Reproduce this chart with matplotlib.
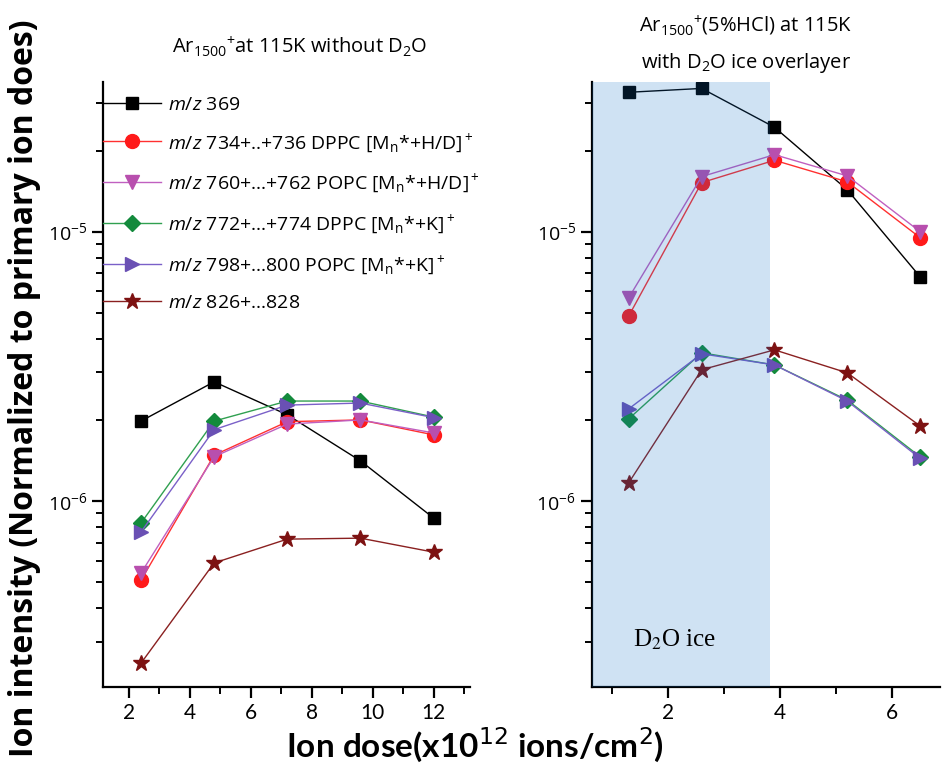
import matplotlib
matplotlib.use("Agg")
import matplotlib.pyplot as plt
from matplotlib.ticker import LogLocator, NullFormatter, MultipleLocator
import numpy as np

plt.rcParams['font.family'] = ['Open Sans', 'DejaVu Sans']
plt.rcParams['mathtext.fontset'] = 'custom'
plt.rcParams['mathtext.rm'] = 'Open Sans'
plt.rcParams['mathtext.it'] = 'Open Sans:italic'
plt.rcParams['mathtext.bf'] = 'Open Sans:bold'

# left panel: Ar1500+ at 115K without D2O
dose_a = [2.4, 4.8, 7.2, 9.6, 12.0]
a_369 = [1.98e-6, 2.77e-6, 2.09e-6, 1.41e-6, 8.65e-7]
a_734 = [5.08e-7, 1.48e-6, 1.97e-6, 2.00e-6, 1.76e-6]
a_760 = [5.40e-7, 1.46e-6, 1.93e-6, 2.00e-6, 1.79e-6]
a_772 = [8.28e-7, 1.98e-6, 2.35e-6, 2.35e-6, 2.05e-6]
a_798 = [7.67e-7, 1.84e-6, 2.27e-6, 2.31e-6, 2.04e-6]
a_826 = [2.50e-7, 5.89e-7, 7.22e-7, 7.28e-7, 6.46e-7]

# right panel: Ar1500+(5%HCl) at 115K with D2O ice overlayer
dose_b = [1.3, 2.6, 3.9, 5.2, 6.5]
b_369 = [3.29e-5, 3.40e-5, 2.44e-5, 1.43e-5, 6.80e-6]
b_734 = [4.87e-6, 1.52e-5, 1.84e-5, 1.53e-5, 9.50e-6]
b_760 = [5.69e-6, 1.60e-5, 1.93e-5, 1.61e-5, 1.00e-5]
b_772 = [2.02e-6, 3.55e-6, 3.20e-6, 2.37e-6, 1.46e-6]
b_798 = [2.20e-6, 3.52e-6, 3.20e-6, 2.35e-6, 1.44e-6]
b_826 = [1.17e-6, 3.07e-6, 3.64e-6, 2.99e-6, 1.90e-6]
ice_end = 3.82

labels = [r'$\it{m/z}$ 369',
          r'$\it{m/z}$ 734+..+736 DPPC [M$_\mathrm{n}$*+H/D]$^+$',
          r'$\it{m/z}$ 760+...+762 POPC [M$_\mathrm{n}$*+H/D]$^+$',
          r'$\it{m/z}$ 772+...+774 DPPC [M$_\mathrm{n}$*+K]$^+$',
          r'$\it{m/z}$ 798+...800 POPC [M$_\mathrm{n}$*+K]$^+$',
          r'$\it{m/z}$ 826+...828']
colors = ['black', '#ff1a1a', '#b84fae', '#138a3c', '#6a50b4', '#7d1212']
lcolors = ['black', '#ff3030', '#c060c0', '#30a050', '#7a60c8', '#8a2020']
markers = ['s', 'o', 'v', 'D', '>', '*']
msizes = [9, 10, 10, 8, 10, 12]

fig = plt.figure(figsize=(9.44, 7.74), dpi=100)
ax1 = fig.add_axes([0.109, 0.1124, 0.389, 0.782])
ax2 = fig.add_axes([0.627, 0.1124, 0.369, 0.782])

series_a = [a_369, a_734, a_760, a_772, a_798, a_826]
series_b = [b_369, b_734, b_760, b_772, b_798, b_826]

for i in range(6):
    ax1.plot(dose_a, series_a[i], color=lcolors[i], lw=1.0, marker=markers[i],
             ms=msizes[i], mfc=colors[i], mec=colors[i], label=labels[i])
    ax2.plot(dose_b, series_b[i], color=lcolors[i], lw=1.0, marker=markers[i],
             ms=msizes[i], mfc=colors[i], mec=colors[i])

ax2.axvspan(0.0, ice_end, color=(15/255, 110/255, 195/255), alpha=0.2, lw=0, zorder=5)
ax2.text(1.37, 3.04e-7, r'D$_2$O ice', family='Liberation Serif', fontsize=18,
         va='center', math_fontfamily='stix', zorder=6)

tick_font = ['Lato', 'DejaVu Sans']
for ax in (ax1, ax2):
    ax.set_yscale('log')
    ax.set_ylim(2.04e-7, 3.6e-5)
    ax.spines['top'].set_visible(False)
    ax.spines['right'].set_visible(False)
    ax.spines['left'].set_linewidth(1.6)
    ax.spines['bottom'].set_linewidth(1.6)
    ax.yaxis.set_major_locator(LogLocator(base=10))
    ax.yaxis.set_minor_locator(LogLocator(base=10, subs=np.arange(2, 10)))
    ax.yaxis.set_minor_formatter(NullFormatter())
    ax.tick_params(which='major', direction='out', length=8, width=1.6, labelsize=14)
    ax.tick_params(which='minor', direction='out', length=5, width=1.4)

ax1.set_xlim(1.15, 13.2)
ax1.xaxis.set_major_locator(MultipleLocator(2))
ax1.xaxis.set_minor_locator(MultipleLocator(1))
ax2.set_xlim(0.64, 6.86)
ax2.xaxis.set_major_locator(MultipleLocator(2))
ax2.xaxis.set_minor_locator(MultipleLocator(1))
for ax in (ax1, ax2):
    for t in ax.get_xticklabels():
        t.set_family(tick_font)
        t.set_fontsize(15)

ax1.legend(loc='upper left', bbox_to_anchor=(0.0, 0.977), frameon=False,
           fontsize=14, handlelength=3.0, handletextpad=0.35, labelspacing=0.88,
           borderaxespad=0, borderpad=0)

fig.text(0.317, 0.94, r'Ar$_{1500}$$^{+}$at 115K without D$_2$O', ha='center',
         va='center', fontsize=14.5)
fig.text(0.79, 0.967, r'Ar$_{1500}$$^{+}$(5%HCl) at 115K', ha='center',
         va='center', fontsize=14.5)
fig.text(0.79, 0.919, r'with D$_2$O ice overlayer', ha='center',
         va='center', fontsize=14.5)

fig.text(0.026, 0.499, 'Ion intensity (Normalized to primary ion does)',
         rotation=90, ha='center', va='center', fontsize=23, fontweight='bold')
fig.text(0.503, 0.037, r'Ion dose(x10$^{12}$ ions/cm$^2$)', ha='center',
         va='center', fontsize=24, fontweight='bold', family=tick_font,
         math_fontfamily='dejavusans')

fig.savefig('out.png', dpi=100)
